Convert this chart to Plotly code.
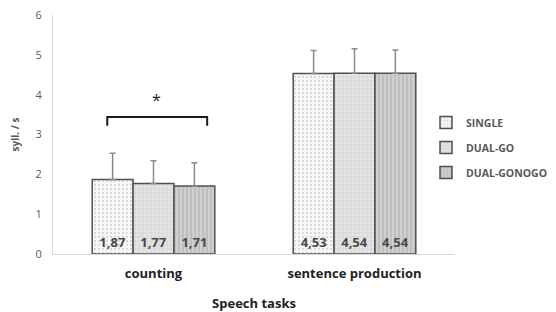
import plotly.graph_objects as go

categories = ["counting", "sentence production"]
series_names = ["SINGLE", "DUAL-GO", "DUAL-GONOGO"]
means = {
    "SINGLE": [1.87, 4.53],
    "DUAL-GO": [1.77, 4.54],
    "DUAL-GONOGO": [1.71, 4.54],
}
errors = {
    "SINGLE": [0.66, 0.58],
    "DUAL-GO": [0.57, 0.61],
    "DUAL-GONOGO": [0.58, 0.58],
}
labels = {
    "SINGLE": ["1,87", "4,53"],
    "DUAL-GO": ["1,77", "4,54"],
    "DUAL-GONOGO": ["1,71", "4,54"],
}
y_ticks = [0, 1, 2, 3, 4, 5, 6]

styles = {
    "SINGLE": dict(bg="#f7f7f7", fg="#b5b5b5", shape=".", size=4, sol=0.25),
    "DUAL-GO": dict(bg="#e6e6e6", fg="#bdbdbd", shape="+", size=4, sol=0.35),
    "DUAL-GONOGO": dict(bg="#cfcfcf", fg="#a8a8a8", shape="|", size=4, sol=0.4),
}

# page body adds an 8px offset; figure is sized to fill the rest of the window
W, H = 548, 304

FONT = "Open Sans"
fig = go.Figure()
for i, name in enumerate(series_names):
    st = styles[name]
    fig.add_trace(go.Bar(
        x=categories, y=means[name], name=name,
        legendgroup=name,
        text=labels[name], textposition="inside", insidetextanchor="start",
        textangle=0,
        textfont=dict(family=FONT, size=13, color="#4a4a4a", weight="bold"),
        marker=dict(
            color=st["bg"],
            line=dict(color="#505050", width=1.5),
            pattern=dict(shape=st["shape"], fgcolor=st["fg"], bgcolor=st["bg"],
                         size=st["size"], solidity=st["sol"], fillmode="overlay"),
        ),
        error_y=dict(type="data", array=errors[name], symmetric=False,
                     arrayminus=[0, 0], color="#8a8a8a", thickness=1.5, width=3),
    ))

# significance bracket over counting
fig.add_shape(type="path", xref="x", yref="y",
              path="M -0.23,3.22 L -0.23,3.44 L 0.267,3.44 L 0.267,3.22",
              line=dict(color="#1a1a1a", width=2))
fig.add_annotation(x=0.015, y=3.86, xref="x", yref="y", text="*", showarrow=False,
                   font=dict(family=FONT, size=16, color="#222"))

fig.update_layout(
    width=W, height=H,
    margin=dict(l=45, r=101, t=7, b=58, autoexpand=False),
    paper_bgcolor="white", plot_bgcolor="white",
    barmode="group", bargap=0.39, bargroupgap=0,
    showlegend=True,
    legend=dict(xref="container", yref="container", x=418 / W, y=1 - 100 / H,
                xanchor="left", yanchor="top",
                font=dict(family=FONT, size=10.5, color="#595959", weight="bold"),
                tracegroupgap=6, itemwidth=30, bgcolor="rgba(0,0,0,0)"),
    font=dict(family=FONT, color="#595959"),
    xaxis=dict(showline=True, linecolor="#d9d9d9", linewidth=1, ticks="",
               automargin=False, ticklabelstandoff=7,
               tickfont=dict(family=FONT, size=13, color="#222", weight="bold"),
               title=dict(text="Speech tasks", standoff=22,
                          font=dict(family=FONT, size=13, color="#222", weight="bold"))),
    yaxis=dict(range=[0, 6], tickvals=y_ticks, showgrid=False, zeroline=False,
               showline=True, linecolor="#d9d9d9", linewidth=1, ticks="",
               automargin=False, ticklabelstandoff=8, ticklabeloverflow="allow",
               tickfont=dict(family=FONT, size=11, color="#595959"),
               title=dict(text="syll. / s", standoff=14,
                          font=dict(family=FONT, size=10, color="#595959", weight="bold"))),
)

fig.write_html("out.html")
